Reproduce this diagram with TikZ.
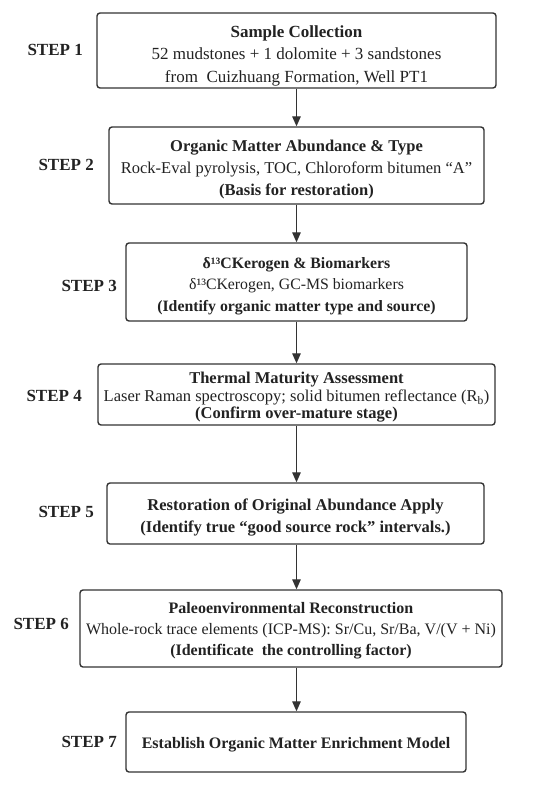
\documentclass[tikz,border=0pt]{standalone}
\usepackage{fontspec}
\setmainfont{Liberation Serif}
\usetikzlibrary{arrows.meta}
\definecolor{boxc}{HTML}{333333}
\definecolor{txtc}{HTML}{222222}
\begin{document}
\begin{tikzpicture}[x=1pt,y=-1pt,
  box/.style={draw=boxc, line width=1.4pt, rounded corners=3pt, inner sep=0pt},
  boxtext/.style={align=center, inner sep=0pt, text=txtc, yshift=-4pt},
  steplabel/.style={font=\bfseries\fontsize{17}{20}\selectfont, text=txtc, anchor=east, inner sep=0pt},
  arr/.style={draw=boxc, line width=1.3pt, -{Triangle[length=10pt,width=8.5pt]}}]
\fill[white] (0,0) rectangle (550,785);
\useasboundingbox (0,0) rectangle (550,785);

\node[box, minimum width=399pt, minimum height=75pt] (b1) at (296.5,50.5) {};
\node[boxtext, font=\fontsize{17}{22.5}\selectfont, yshift=-1pt] (t1) at (b1.center)
  {\textbf{Sample Collection}\\52 mudstones + 1 dolomite + 3 sandstones\\from\ \ Cuizhuang Formation, Well PT1};

\node[box, minimum width=375pt, minimum height=77pt] (b2) at (296.5,165.5) {};
\node[boxtext, font=\fontsize{16.5}{22}\selectfont] (t2) at (b2.center)
  {\textbf{Organic Matter Abundance \& Type}\\Rock-Eval pyrolysis, TOC, Chloroform bitumen “A”\\\textbf{(Basis for restoration)}};

\node[box, minimum width=341pt, minimum height=78pt] (b3) at (296.5,282) {};
\node[boxtext, font=\fontsize{15.8}{21.5}\selectfont] (t3) at (b3.center)
  {\textbf{δ¹³CKerogen \& Biomarkers}\\δ¹³CKerogen, GC-MS biomarkers\\\textbf{(Identify organic matter type and source)}};

\node[box, minimum width=397pt, minimum height=61pt] (b4) at (296.5,394.5) {};
\node[boxtext, font=\fontsize{16.5}{17.5}\selectfont, yshift=1pt] (t4) at (b4.center)
  {\textbf{Thermal Maturity Assessment}\\Laser Raman spectroscopy; solid bitumen reflectance (R\textsubscript{b})\\\textbf{(Confirm over-mature stage)}};

\node[box, minimum width=377pt, minimum height=61pt] (b5) at (295.5,513.5) {};
\node[boxtext, font=\fontsize{16.5}{22}\selectfont] (t5) at (b5.center)
  {\textbf{Restoration of Original Abundance Apply}\\\textbf{(Identify true “good source rock” intervals.)}};

\node[box, minimum width=422pt, minimum height=77pt] (b6) at (291,628.5) {};
\node[boxtext, font=\fontsize{16}{21}\selectfont, yshift=2pt] (t6) at (b6.center)
  {\textbf{Paleoenvironmental Reconstruction}\\Whole-rock trace elements (ICP-MS): Sr/Cu, Sr/Ba, V/(V + Ni)\\\textbf{(Identificate\ \ the controlling factor)}};

\node[box, minimum width=340pt, minimum height=60pt] (b7) at (296,742) {};
\node[boxtext, font=\fontsize{16}{21}\selectfont, yshift=1pt] (t7) at (b7.center)
  {\textbf{Establish Organic Matter Enrichment Model}};

\node[steplabel] (s1) at (83,50) {STEP 1};
\node[steplabel] (s2) at (94,165) {STEP 2};
\node[steplabel] (s3) at (117,286) {STEP 3};
\node[steplabel] (s4) at (82,396) {STEP 4};
\node[steplabel] (s5) at (94,512) {STEP 5};
\node[steplabel] (s6) at (69,624) {STEP 6};
\node[steplabel] (s7) at (117,742) {STEP 7};

\draw[arr] (b1.south) -- (b2.north);
\draw[arr] (b2.south) -- (b3.north);
\draw[arr] (b3.south) -- (b4.north);
\draw[arr] (b4.south) -- (b5.north -| b4.south);
\draw[arr] (b5.south -| b4.south) -- (b6.north -| b4.south);
\draw[arr] (b6.south -| b4.south) -- (b7.north -| b4.south);
\end{tikzpicture}
\end{document}
